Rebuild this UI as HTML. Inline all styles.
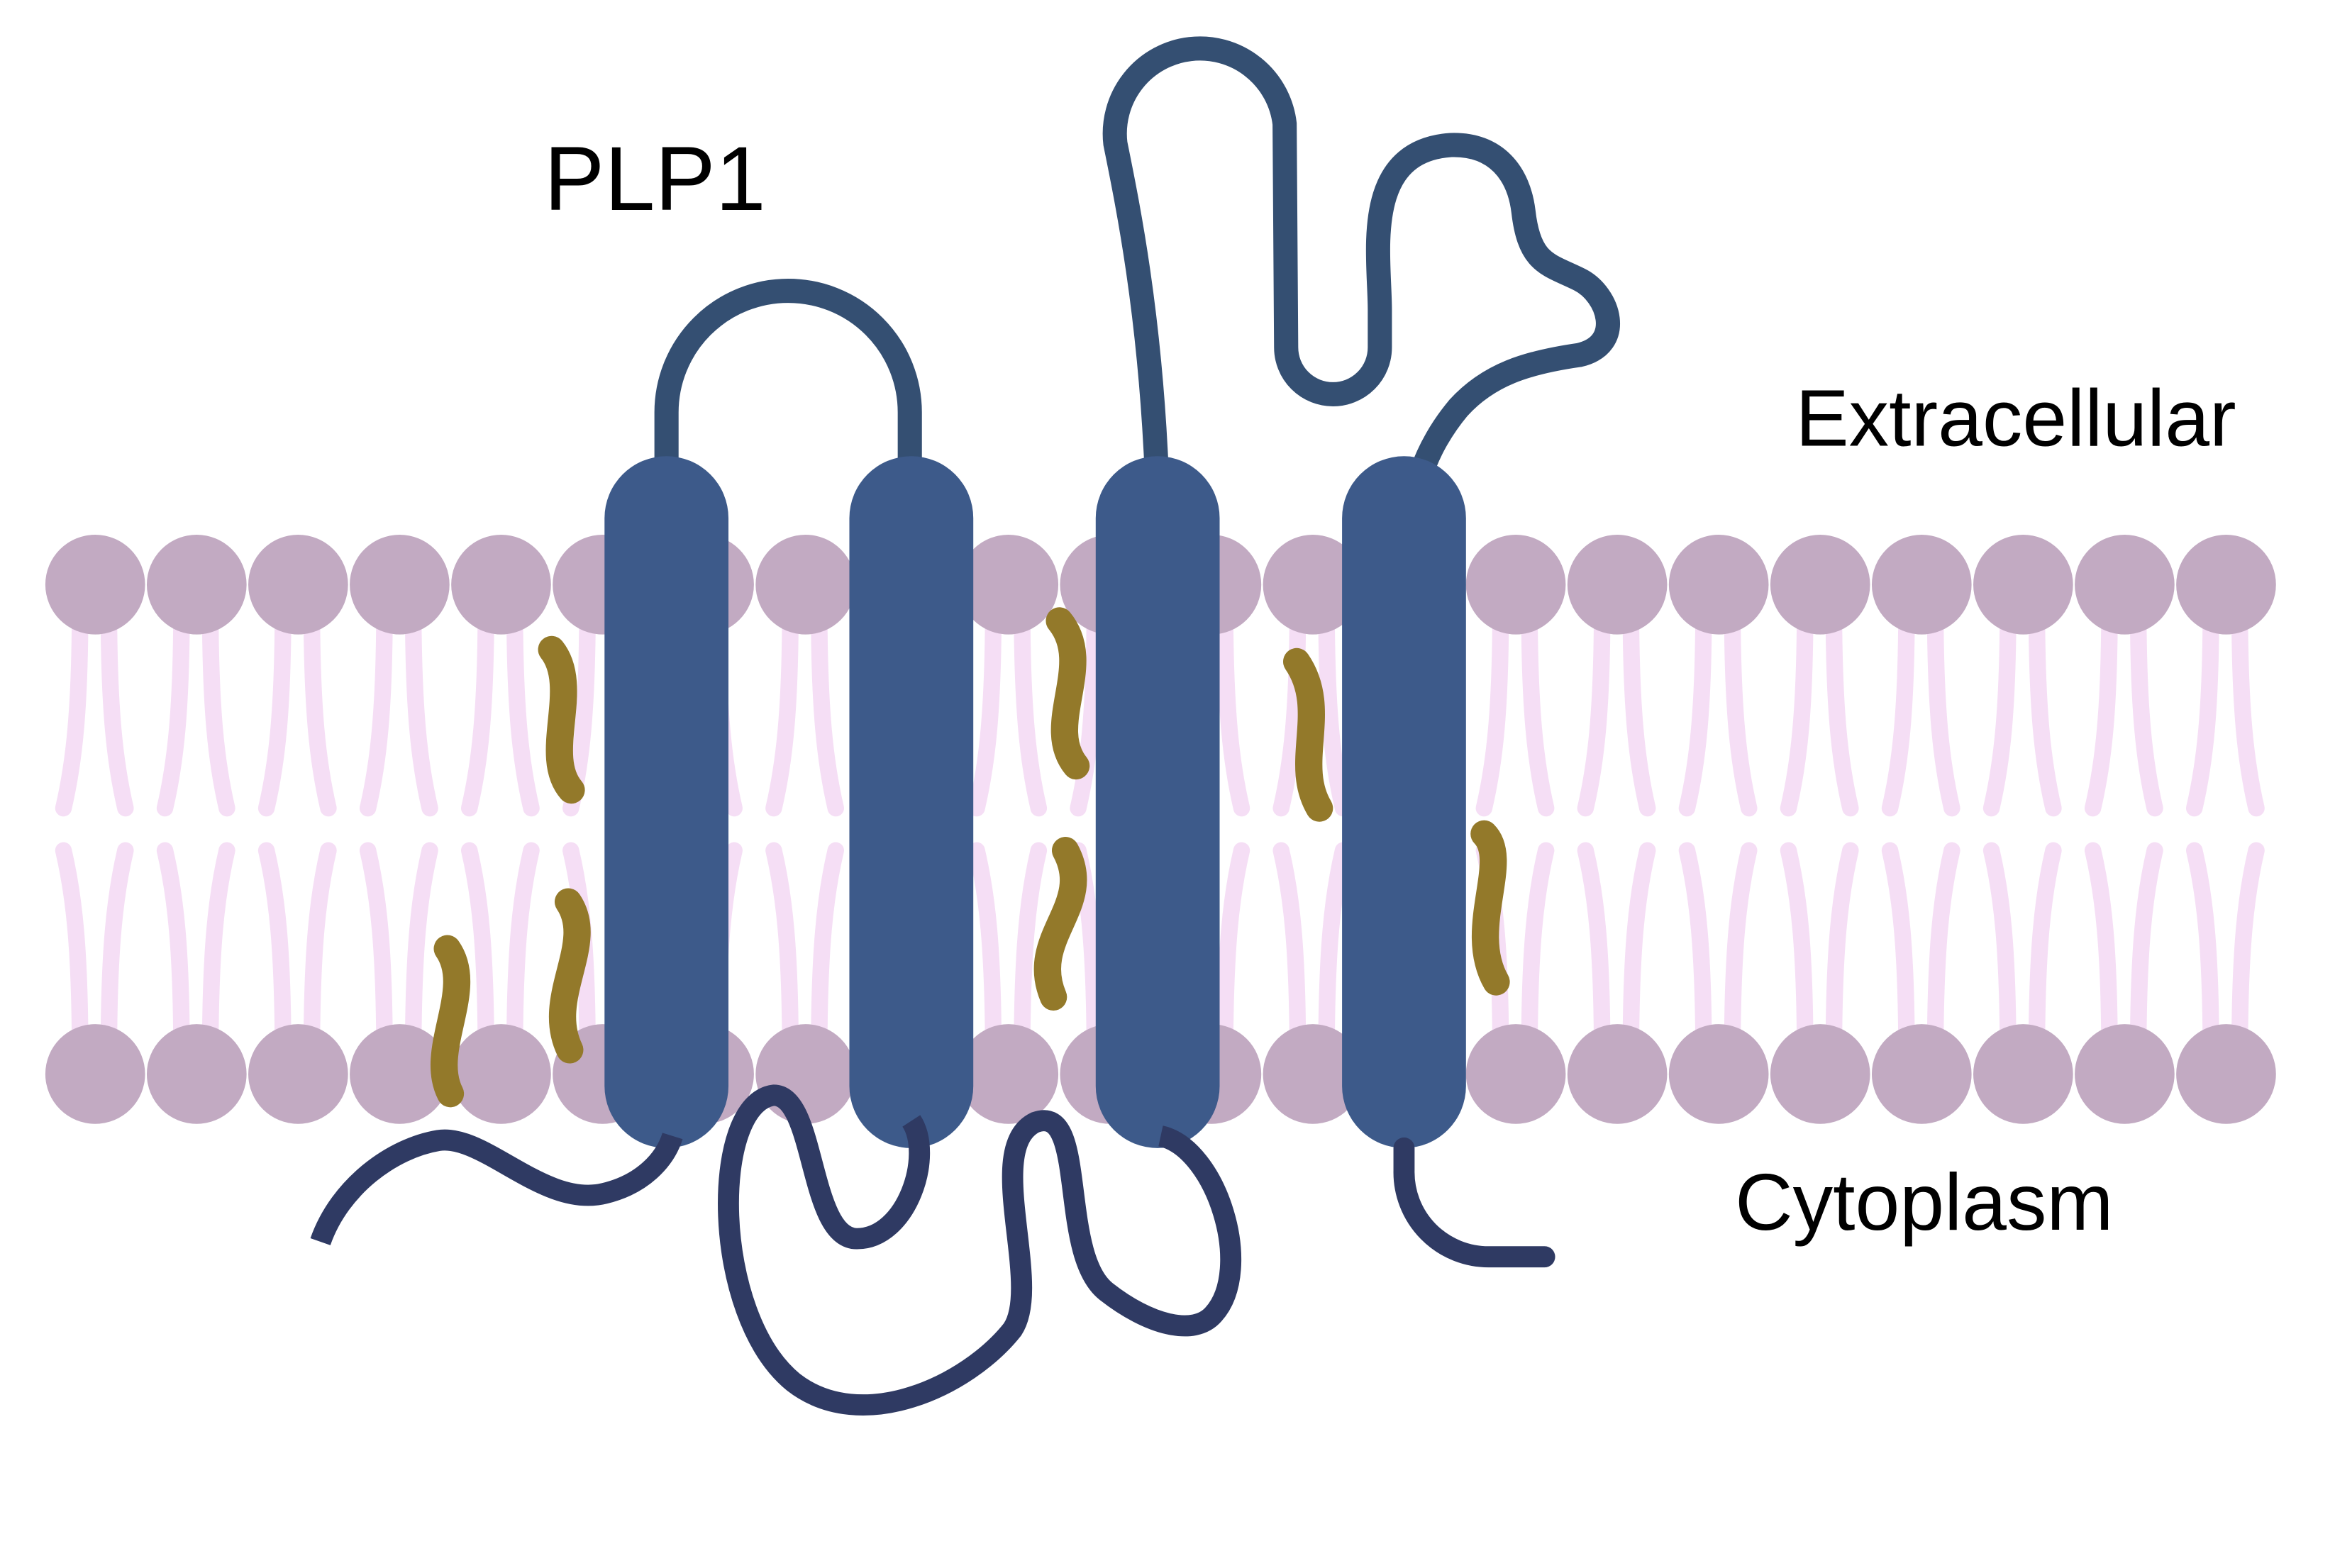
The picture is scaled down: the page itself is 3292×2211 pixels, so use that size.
<!DOCTYPE html>
<html><head><meta charset="utf-8"><style>
html,body{margin:0;padding:0;background:#fff;width:3292px;height:2211px;overflow:hidden}
svg{display:block}
</style></head><body>
<svg width="3292" height="2211" viewBox="0 0 1545 1038" preserveAspectRatio="none" xmlns="http://www.w3.org/2000/svg">
<rect width="1545" height="1038" fill="#fff"/>
<g id="tails" stroke="#f5def5" stroke-width="11" fill="none" stroke-linecap="round"></g>
<g id="heads" fill="#c2aac2"></g>
<g stroke="#344f72" stroke-width="16" fill="none">
<path d="M441,305 L441,273 A80,80 0 0 1 602,273 L602,305"/>
<path d="M765,305 C760,200 745,130 738,95 A56,56 0 1 1 850,82 L851,230 A31,31 0 0 0 913,230 L913,205 C913,170 900,100 960,96 C990,95 1005,115 1008,140 C1012,175 1025,175 1045,185 C1065,195 1075,228 1045,235 C1010,240 985,248 965,270 C955,282 945,298 940,315"/>
</g>
<g fill="#3d5a8a">
<rect x="400" y="302" width="82" height="458" rx="41"/>
<rect x="562" y="302" width="82" height="458" rx="41"/>
<rect x="725" y="302" width="82" height="458" rx="41"/>
<rect x="888" y="302" width="82" height="458" rx="41"/>
</g>
<g stroke="#2f3a63" stroke-width="14" fill="none">
<path d="M212,822 C225,785 260,760 290,755 C320,750 360,800 400,790 C425,784 440,768 445,752"/>
<path d="M603,742 C618,765 600,820 567,820 C535,820 540,725 512,725 C470,730 470,870 525,915 C570,950 640,918 670,880 C690,850 650,760 685,743 C720,730 700,830 732,855 C760,877 790,885 803,870 C830,840 805,760 768,752"/>
<path d="M929,760 L929,775 A56,56 0 0 0 985,832 L1022,832" stroke-linecap="round"/>
</g>
<g stroke="#93792a" stroke-width="18" fill="none" stroke-linecap="round">
<path d="M365,430 C385,455 358,500 378,523"/>
<path d="M376,597 C395,625 360,660 377,695"/>
<path d="M296,628 C315,655 283,695 298,724"/>
<path d="M701,411 C725,440 690,480 712,507"/>
<path d="M705,563 C725,600 680,620 697,660"/>
<path d="M858,438 C880,470 855,505 873,535"/>
<path d="M982,552 C1000,570 970,615 990,650"/>
</g>
<g font-family="Liberation Sans, sans-serif" fill="#000">
<text x="360" y="139" font-size="60">PLP1</text>
<text x="1188" y="295" font-size="53">Extracellular</text>
<text x="1148" y="814" font-size="53">Cytoplasm</text>
</g>
<script>
var t=document.getElementById('tails'),h=document.getElementById('heads'),ns='http://www.w3.org/2000/svg';
for(var i=0;i<22;i++){var x=63+i*67.14;
var d='M'+(x-10)+',400 C'+(x-10)+',470 '+(x-14)+',505 '+(x-21)+',535 '+
'M'+(x+9)+',400 C'+(x+9)+',470 '+(x+13)+',505 '+(x+20)+',535 '+
'M'+(x-21)+',563 C'+(x-14)+',593 '+(x-10)+',628 '+(x-10)+',700 '+
'M'+(x+20)+',563 C'+(x+13)+',593 '+(x+9)+',628 '+(x+9)+',700';
var p=document.createElementNS(ns,'path');p.setAttribute('d',d);t.appendChild(p);
[387,711].forEach(function(y){var c=document.createElementNS(ns,'circle');c.setAttribute('cx',x);c.setAttribute('cy',y);c.setAttribute('r',33);h.appendChild(c);});}
</script>
</svg>
</body></html>
